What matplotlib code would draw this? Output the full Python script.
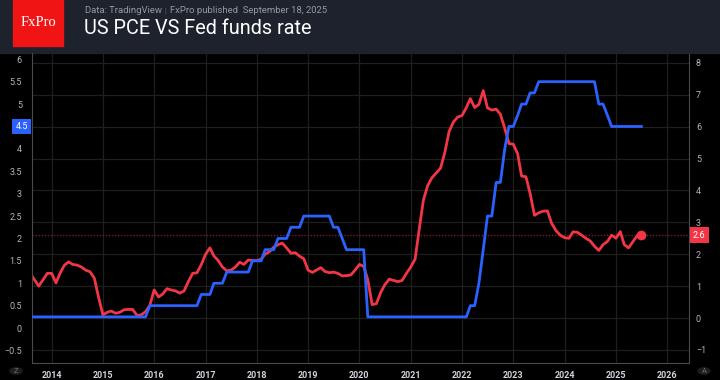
import numpy as np
import pandas as pd
import matplotlib
matplotlib.use("Agg")
import matplotlib.pyplot as plt
import matplotlib.dates as mdates
from matplotlib.patches import Rectangle, Circle

plt.rcParams['font.family'] = ['Roboto', 'DejaVu Sans']

# monthly data, Aug 2013 .. Jul 2025
months = pd.date_range('2013-08-01', periods=144, freq='MS')

# US PCE inflation, % y/y (right axis)
pce = [
    1.4, 1.2, 1.0, 1.2, 1.4,
    1.4, 1.1, 1.4, 1.65, 1.76, 1.68, 1.66, 1.6, 1.5, 1.45, 1.25, 0.65,
    0.1, 0.18, 0.22, 0.15, 0.18, 0.26, 0.27, 0.27, 0.08, 0.1, 0.2, 0.4,
    0.88, 0.66, 0.75, 0.92, 0.88, 0.85, 0.78, 0.85, 1.15, 1.4, 1.42, 1.67,
    2.0, 2.2, 1.95, 1.8, 1.6, 1.48, 1.5, 1.6, 1.75, 1.68, 1.82, 1.8,
    1.8, 1.85, 2.0, 2.08, 2.22, 2.3, 2.35, 2.2, 2.03, 2.05, 1.94, 1.86,
    1.5, 1.43, 1.5, 1.58, 1.46, 1.42, 1.44, 1.4, 1.32, 1.33, 1.35, 1.5,
    1.68, 1.62, 1.2, 0.42, 0.45, 0.8, 1.05, 1.22, 1.18, 1.14, 1.18, 1.4,
    1.6, 1.85, 2.75, 3.7, 4.15, 4.4, 4.55, 4.7, 5.2, 5.85, 6.15, 6.3,
    6.35, 6.6, 6.88, 6.6, 6.7, 7.13, 6.59, 6.52, 6.55, 6.39, 5.95, 5.47,
    5.45, 5.15, 4.45, 4.43, 3.9, 3.22, 3.3, 3.35, 3.36, 2.97, 2.74, 2.6,
    2.52, 2.5, 2.7, 2.69, 2.6, 2.5, 2.42, 2.25, 2.12, 2.3, 2.4, 2.6,
    2.5, 2.71, 2.3, 2.2, 2.39, 2.58, 2.6,
]

# Fed funds rate, upper bound % (left axis)
fed = (
    [0.25] * 28 +          # Aug 2013 - Nov 2015
    [0.5] * 12 +           # Dec 2015 - Nov 2016
    [0.75] * 3 +
    [1.0] * 3 +
    [1.25] * 6 +
    [1.5] * 3 +
    [1.75] * 3 +
    [2.0] * 3 +
    [2.25] * 3 +
    [2.5] * 7 +            # Dec 2018 - Jun 2019
    [2.25] * 2 +
    [2.0] +
    [1.75] * 5 +           # Oct 2019 - Feb 2020
    [0.25] * 24 +          # Mar 2020 - Feb 2022
    [0.5, 0.5, 1.0, 1.75, 2.5, 2.5, 3.25, 3.25, 4.0, 4.5,
     4.5, 4.75, 5.0, 5.0, 5.25, 5.25] +
    [5.5] * 14 +           # Jul 2023 - Aug 2024
    [5.0, 5.0, 4.75] +
    [4.5] * 8              # Dec 2024 - Jul 2025
)

years = list(range(2014, 2027))
left_ticks = [6, 5.5, 5, 4.5, 4, 3.5, 3, 2.5, 2, 1.5, 1, 0.5, 0, -0.5]
right_ticks = [8, 7, 6, 5, 4, 3, 2, 1, 0, -1]

RED = '#f23645'
BLUE = '#2962ff'
TXT = '#b2b5be'
GRID = '#1f1f1f'
EDGE = '#4a4a4a'

fig = plt.figure(figsize=(7.2, 3.8), dpi=100)
fig.patch.set_facecolor('#000000')

# header
fig.patches.append(Rectangle((0, 1 - 53 / 380), 1, 53 / 380, transform=fig.transFigure,
                             color='#1e222d', zorder=0))
fig.patches.append(Rectangle((13 / 720, 1 - 46 / 380), 50 / 720, 46 / 380,
                             transform=fig.transFigure, color='#f01414', zorder=1))
fig.text(38 / 720, 1 - 23 / 380, 'FxPro', family='Liberation Serif', color='white',
         fontsize=10.5, ha='center', va='center')
fig.text(85 / 720, 1 - 10.5 / 380, 'Data: TradingView', color='#9598a1', fontsize=6.8,
         va='center')
fig.text(164.5 / 720, 1 - 10.5 / 380, '|', color='#6a6d78', fontsize=5, va='center')
fig.text(170 / 720, 1 - 10.5 / 380, 'FxPro published  September 18, 2025', color='#9598a1',
         fontsize=6.8, va='center')
fig.text(84 / 720, 1 - 28 / 380, 'US PCE VS Fed funds rate', color='white', fontsize=14.3,
         va='center')

x0, x1 = 31.7 / 720, 689 / 720
y0, y1 = 1 - 363 / 380, 1 - 53 / 380
ax = fig.add_axes([x0, y0, x1 - x0, y1 - y0])
ax2 = ax.twinx()

ax.set_xlim(pd.Timestamp('2013-08-12'), pd.Timestamp('2026-06-05'))
ax.set_ylim(-0.78, 6.14)
ax2.set_ylim(-1.41, 8.31)

# grid: vertical from years, horizontal from right scale
for yr in years:
    ax2.axvline(pd.Timestamp(f'{yr}-01-01'), color=GRID, lw=0.9, zorder=0)
for t in right_ticks:
    ax2.axhline(t, color=GRID, lw=0.9, zorder=0)

ax2.axhline(pce[-1], color='#7a1c26', lw=1, ls=(0, (1, 1.2)), zorder=1)

ax.plot(months, fed, color=BLUE, lw=2, zorder=3, solid_joinstyle='round')
ax2.plot(months, pce, color=RED, lw=2, zorder=3, solid_joinstyle='round')
ax2.plot(months[-1], pce[-1], 'o', color=RED, ms=6, zorder=4)
ax2.set_zorder(0)
ax2.patch.set_visible(True)
ax2.patch.set_facecolor('#000000')
ax.set_zorder(1)
ax.patch.set_visible(False)

ax.set_xticks([pd.Timestamp(f'{yr}-01-01') for yr in years])
ax.xaxis.set_major_formatter(mdates.DateFormatter('%Y'))
ax.set_yticks(left_ticks)
ax.set_yticklabels(['' if t == 4.5 else f'{t:g}'.replace('-', '\u2212') for t in left_ticks])
ax2.set_yticks(right_ticks)
ax2.set_yticklabels([f'{t:g}'.replace('-', '\u2212') for t in right_ticks])

ax.tick_params(axis='x', length=0, pad=6, labelsize=6.5, labelcolor='#d1d4dc')
ax.tick_params(axis='y', length=0, pad=7, labelsize=6.5, labelcolor=TXT)
ax2.tick_params(axis='y', length=0, pad=5, labelsize=6.5, labelcolor=TXT)
for lab in ax.get_xticklabels():
    lab.set_fontweight('bold')

for a in (ax, ax2):
    for s in a.spines.values():
        s.set_visible(False)
for side in ('left', 'bottom'):
    ax.spines[side].set_visible(True)
    ax.spines[side].set_color(EDGE)
ax2.spines['right'].set_visible(True)
ax2.spines['right'].set_color(EDGE)

# value tags on the axes
ax.annotate('4.5', xy=(0, fed[-1]), xycoords=('axes fraction', 'data'),
            xytext=(-7.3, 0), textcoords='offset points', ha='center', va='center',
            fontsize=6.5, color='white', zorder=10, annotation_clip=False,
            bbox=dict(boxstyle='square,pad=0.35', fc=BLUE, ec='none'))
ax2.annotate('2.6', xy=(1, pce[-1]), xycoords=('axes fraction', 'data'),
             xytext=(7.3, 0), textcoords='offset points', ha='center', va='center',
             fontsize=6.5, color='white', zorder=10, annotation_clip=False,
             bbox=dict(boxstyle='square,pad=0.35', fc=RED, ec='none'))

# corner buttons
for cx, letter in ((16, 'Z'), (704, 'A')):
    fig.patches.append(Circle((cx / 720, 1 - 371 / 380), 6 / 720, transform=fig.transFigure,
                              color='#1e1e1e', zorder=1))
    fig.text(cx / 720, 1 - 371 / 380, letter, color='#6a6d78', fontsize=5.5,
             ha='center', va='center')

fig.savefig('out.png', dpi=100, facecolor=fig.get_facecolor())
